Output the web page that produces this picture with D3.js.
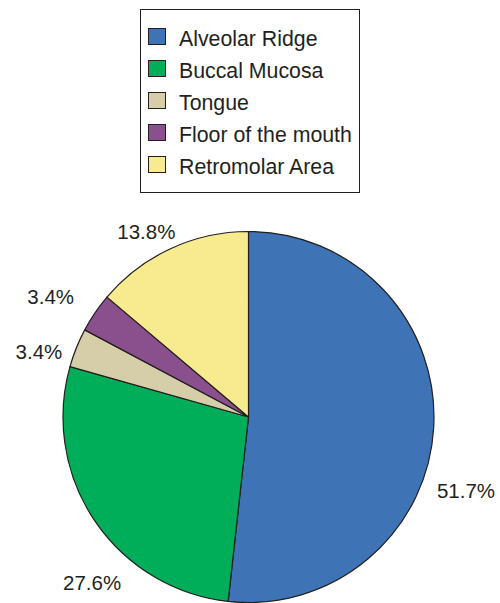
<!DOCTYPE html>
<html><head><meta charset="utf-8">
<script src="https://cdn.jsdelivr.net/npm/d3@7"></script>
<style>body{margin:0;background:#fff}svg{display:block}text{font-family:"Liberation Sans",Arial,sans-serif;fill:#231f20}</style>
</head><body>
<script>
const categories = ["Alveolar Ridge","Buccal Mucosa","Tongue","Floor of the mouth","Retromolar Area"];
const values = [51.7, 27.6, 3.4, 3.4, 13.8];
const labels = ["51.7%","27.6%","3.4%","3.4%","13.8%"];
const colors = ["#3e74b6","#00ae5a","#d5cea9","#8a4f8d","#f8ea8f"];

const W = 500, H = 603;
const svg = d3.select("body").append("svg").attr("width", W).attr("height", H);

// Legend
const lg = svg.append("g");
lg.append("rect").attr("x",140.5).attr("y",9.5).attr("width",219).attr("height",183)
  .attr("fill","#fff").attr("stroke","#231f20").attr("stroke-width",1);
const ly = d3.scalePoint().domain(categories).range([37,165]);
categories.forEach((c,i)=>{
  lg.append("rect").attr("x",148.5).attr("y",ly(c)-8.5).attr("width",17).attr("height",16)
    .attr("fill",colors[i]).attr("stroke","#231f20").attr("stroke-width",1);
  lg.append("text").attr("x",179).attr("y",ly(c)+1).attr("dy","0.36em")
    .attr("font-size",21.3).text(c);
});

// Pie
const cx = 248.5, cy = 417, r = 185.5;
const pie = d3.pie().sort(null).value(d=>d)(values);
const arc = d3.arc().innerRadius(0).outerRadius(r);
const g = svg.append("g").attr("transform",`translate(${cx},${cy})`);
g.selectAll("path").data(pie).join("path")
  .attr("d",arc).attr("fill",(d,i)=>colors[i])
  .attr("stroke","#231f20").attr("stroke-width",1.2).attr("stroke-linejoin","round");

// Labels placed near slice mid-angles (small angular/radial tweaks like the original layout)
const tweak = [[0.27,44],[-0.22,42],[-0.08,34],[-0.05,46],[-0.07,26]];
g.selectAll("text.lab").data(pie).join("text").attr("class","lab")
  .attr("font-size",20.5).attr("text-anchor","middle").attr("dy","0.36em")
  .attr("x",(d,i)=>{const a=(d.startAngle+d.endAngle)/2+tweak[i][0];return Math.sin(a)*(r+tweak[i][1]);})
  .attr("y",(d,i)=>{const a=(d.startAngle+d.endAngle)/2+tweak[i][0];return -Math.cos(a)*(r+tweak[i][1]);})
  .text((d,i)=>labels[i]);
</script>
</body></html>
